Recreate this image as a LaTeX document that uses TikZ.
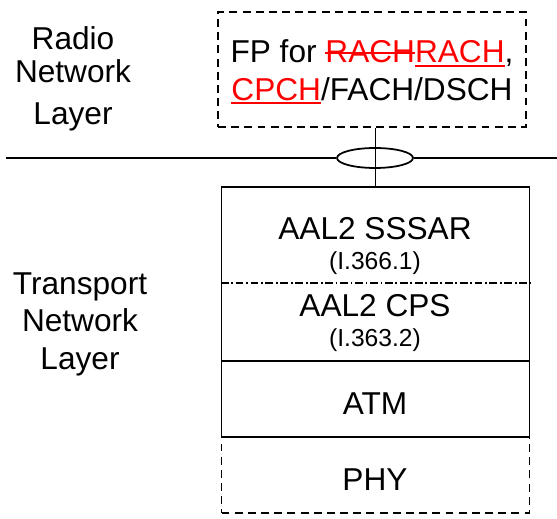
\documentclass[tikz,border=0pt]{standalone}
\usepackage{fontspec}
\setmainfont{Liberation Sans}
\usepackage{xcolor}
\usetikzlibrary{shapes.geometric}

% struck-out and underlined text, in the current colour
\newcommand{\strikeout}[1]{\setbox0\hbox{#1}\rlap{\rule[0.27em]{\wd0}{0.06em}}\box0}
\newcommand{\underl}[1]{\setbox0\hbox{#1}\rlap{\rule[-0.12em]{\wd0}{0.06em}}\box0}

\begin{document}
\begin{tikzpicture}[
      x=0.02cm, y=-0.02cm,
      every node/.style={inner sep=0pt, font=\fontsize{18}{21.3}\selectfont},
      layer/.style={draw, rectangle, line width=1pt, minimum width=6.16cm},
      dash_box/.style={layer, dash pattern=on 4.5pt off 3pt},
      small_text/.style={font=\fontsize{14}{16}\selectfont},
      split_line/.style={line width=0.7pt, dash pattern=on 4.5pt off 1.5pt on 1pt off 1.5pt},
      plane/.style={line width=1pt}
  ]
      \useasboundingbox (0,0) rectangle (557,519);

      % layer names (left)
      \node[align=center] (rnl) at (73,79) {Radio\\[-2.5pt]Network\\[2.5pt]Layer};
      \node[align=center] (tnl) at (80,324) {Transport\\Network\\Layer};

      % radio network layer: frame protocol
      \node[dash_box, minimum height=2.3cm] (fp) at (372,69.5) {};
      \node[align=center] (fptext) at (372,72)
          {FP for \textcolor{red}{\strikeout{RACH}\underl{RACH}},\\
           \textcolor{red}{\underl{CPCH}}/FACH/DSCH};

      % transport network layer stack
      \node[dash_box, minimum height=1.52cm] (phy) at (375.5,475) {};
      \node[layer, minimum height=3.48cm] (aal) at (375.5,274) {};
      \node[layer, minimum height=1.52cm] (atm) at (375.5,399) {};
      \coordinate (split) at (0,283);
      \draw[split_line] (aal.west |- split) -- (aal.east |- split);

      \node[anchor=base] (sssar) at (375,240) {AAL2 SSSAR};
      \node[small_text, anchor=base] (sssarref) at (375,270) {(I.366.1)};
      \node[anchor=base] (cps) at (375,317) {AAL2 CPS};
      \node[small_text, anchor=base] (cpsref) at (375,347) {(I.363.2)};
      \node[anchor=base] (atmlabel) at (375,415) {ATM};
      \node[anchor=base] (phylabel) at (375,490) {PHY};

      % boundary between the layers
      \draw[plane] (fp.south -| aal.north) -- (aal.north);
      \node[draw, ellipse, line width=1pt, minimum width=1.52cm, minimum height=0.4cm] (ring) at (375,158) {};
      \coordinate (planeL) at (6,158);
      \coordinate (planeR) at (557,158);
      \draw[plane] (planeL) -- (ring) -- (planeR);
  \end{tikzpicture}
\end{document}
